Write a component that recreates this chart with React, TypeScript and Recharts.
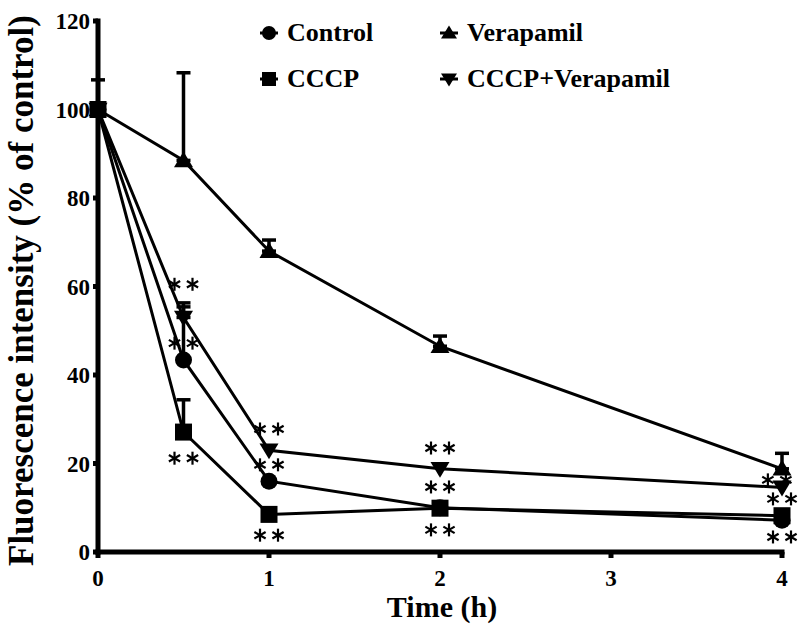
import {
  ComposedChart,
  Line,
  Scatter,
  XAxis,
  YAxis,
  ErrorBar,
  Legend,
  Label,
} from 'recharts';

const times = [0, 0.5, 1, 2, 4];
const xTicks = [0, 1, 2, 3, 4];
const yTicks = [0, 20, 40, 60, 80, 100, 120];

const control = [100, 43.4, 16, 10, 7.2];
const controlErr = [6.7, 12, 0, 0, 0];
const cccp = [100, 27.1, 8.5, 9.9, 8.2];
const cccpErr = [0, 7.3, 0, 0, 0];
const verapamil = [100, 88.5, 68, 46.5, 18.8];
const verapamilErr = [0, 19.8, 2.5, 2.3, 3.5];
const cccpVerapamil = [100, 53, 23, 18.8, 14.6];
const cccpVerapamilErr = [0, 3.3, 0, 0, 0];

// "**" significance marks: time and level where each pair sits
const starTimes = [0.5, 0.5, 0.5, 1, 1, 1, 2, 2, 2, 3.97, 4, 4];
const starLevels = [60.5, 47.2, 21.2, 27.8, 19.7, 3.8, 23.5, 14.7, 5, 16.3, 12, 3.4];

const FONT = '"Liberation Serif", "Times New Roman", serif';

const series = [
  { key: 'control', name: 'Control', values: control, errors: controlErr, shape: 'circle' },
  { key: 'cccp', name: 'CCCP', values: cccp, errors: cccpErr, shape: 'square' },
  { key: 'verapamil', name: 'Verapamil', values: verapamil, errors: verapamilErr, shape: 'up' },
  { key: 'cccpVer', name: 'CCCP+Verapamil', values: cccpVerapamil, errors: cccpVerapamilErr, shape: 'down' },
];

const rows = times.map((t, i) => {
  const row: Record<string, any> = { t };
  series.forEach((s) => {
    row[s.key] = s.values[i];
    row[s.key + 'Err'] = s.errors[i] ? [0, s.errors[i]] : null;
  });
  return row;
});

const stars = starTimes.map((t, i) => ({ t, level: starLevels[i] }));

function Marker({ cx, cy, shape, size = 17 }: any) {
  if (cx == null || cy == null) return null;
  const h = size / 2;
  if (shape === 'circle') return <circle cx={cx} cy={cy} r={h} fill="#000" />;
  if (shape === 'square')
    return <rect x={cx - h} y={cy - h} width={size} height={size} fill="#000" />;
  const w = h + 1;
  if (shape === 'up')
    return (
      <polygon
        points={`${cx},${cy - h - 0.5} ${cx - w},${cy + h * 0.8} ${cx + w},${cy + h * 0.8}`}
        fill="#000"
      />
    );
  return (
    <polygon
      points={`${cx},${cy + h + 0.5} ${cx - w},${cy - h * 0.8} ${cx + w},${cy - h * 0.8}`}
      fill="#000"
    />
  );
}

function Stars({ cx, cy }: any) {
  if (cx == null || cy == null) return null;
  const r = 6.5;
  return (
    <g stroke="#000" strokeWidth={2.2}>
      {[-9, 9].map((dx) =>
        [0, 60, 120].map((a) => {
          const rad = (a * Math.PI) / 180;
          const ux = Math.sin(rad) * r;
          const uy = Math.cos(rad) * r;
          return (
            <line
              key={`${dx}-${a}`}
              x1={cx + dx - ux}
              y1={cy - uy}
              x2={cx + dx + ux}
              y2={cy + uy}
            />
          );
        })
      )}
    </g>
  );
}

const legendSlots = [
  [269, 33],
  [269, 79],
  [449, 33],
  [449, 79],
];

function renderLegend() {
  return (
    <div style={{ position: 'relative', width: 800, height: 100 }}>
      {series.map((s, i) => (
        <div
          key={s.key}
          style={{
            position: 'absolute',
            left: legendSlots[i][0] - 12,
            top: legendSlots[i][1] - 15,
            height: 30,
            display: 'flex',
            alignItems: 'center',
            whiteSpace: 'nowrap',
          }}
        >
          <svg width={24} height={24} style={{ display: 'block' }}>
            <line x1={3} y1={12} x2={21} y2={12} stroke="#000" strokeWidth={3} />
            <Marker cx={12} cy={12} shape={s.shape} size={14} />
          </svg>
          <span
            style={{
              marginLeft: 6,
              fontFamily: FONT,
              fontWeight: 'bold',
              fontSize: 26,
              color: '#000',
            }}
          >
            {s.name}
          </span>
        </div>
      ))}
    </div>
  );
}

const YTitle = (props: any) => {
  const vb = props.viewBox || { y: 21, height: 531 };
  const x = 33;
  const y = vb.y + vb.height + 14;
  return (
    <text
      x={x}
      y={y}
      transform={`rotate(-90, ${x}, ${y})`}
      fontFamily={FONT}
      fontWeight="bold"
      fontSize={35}
      fill="#000"
    >
      Fluorescence intensity (% of control)
    </text>
  );
};

const XTitle = (props: any) => {
  const vb = props.viewBox || { x: 98, y: 552, width: 684 };
  return (
    <text
      x={vb.x + vb.width / 2 + 2}
      y={vb.y + 65}
      textAnchor="middle"
      fontFamily={FONT}
      fontWeight="bold"
      fontSize={30}
      fill="#000"
    >
      Time (h)
    </text>
  );
};

const tickStyle = { fontFamily: FONT, fontWeight: 'bold', fontSize: 23, fill: '#000' };
const axisStroke = { stroke: '#000', strokeWidth: 5, strokeLinecap: 'square' as const };

export default function App() {
  return (
    <div
      style={{
        position: 'absolute',
        left: 0,
        top: 0,
        width: 800,
        height: 625,
        background: '#fff',
      }}
    >
      <ComposedChart
        width={800}
        height={625}
        data={rows}
        margin={{ top: 21, right: 18, bottom: 0, left: 0 }}
      >
        <XAxis
          type="number"
          dataKey="t"
          domain={[0, 4]}
          ticks={xTicks}
          height={73}
          tickSize={6}
          tickMargin={12}
          axisLine={axisStroke}
          tickLine={{ stroke: '#000', strokeWidth: 5 }}
          tick={tickStyle}
          allowDecimals={false}
        >
          <Label content={XTitle} />
        </XAxis>
        <YAxis
          type="number"
          domain={[0, 120]}
          ticks={yTicks}
          width={98}
          tickSize={5}
          tickMargin={3}
          axisLine={axisStroke}
          tickLine={{ stroke: '#000', strokeWidth: 5 }}
          tick={tickStyle}
        >
          <Label content={YTitle} />
        </YAxis>
        <Legend
          layout="horizontal"
          verticalAlign="middle"
          align="center"
          content={renderLegend}
          wrapperStyle={{ position: 'absolute', left: 0, top: 0, width: 800, height: 100 }}
        />
        <Scatter
          data={stars}
          dataKey="level"
          legendType="none"
          zIndex={300}
          isAnimationActive={false}
          shape={(p: any) => <Stars cx={p.cx} cy={p.cy} />}
        />
        {series.map((s) => (
          <Line
            key={s.key}
            type="linear"
            dataKey={s.key}
            name={s.name}
            stroke="#000"
            strokeWidth={3}
            isAnimationActive={false}
            activeDot={false}
            dot={(p: any) => (
              <Marker key={`${s.key}-${p.index}`} cx={p.cx} cy={p.cy} shape={s.shape} />
            )}
          >
            <ErrorBar
              dataKey={s.key + 'Err'}
              direction="y"
              width={7}
              strokeWidth={3.5}
              stroke="#000"
            />
          </Line>
        ))}
      </ComposedChart>
    </div>
  );
}
